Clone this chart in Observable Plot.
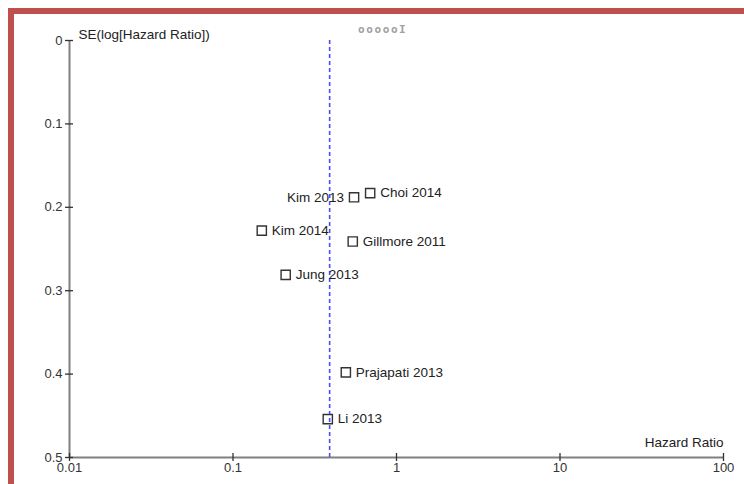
<!DOCTYPE html>
<html>
<head>
<meta charset="utf-8">
<script src="https://cdn.jsdelivr.net/npm/d3@7"></script>
<script src="https://cdn.jsdelivr.net/npm/@observablehq/plot@0.6"></script>
<style>
  html, body { margin: 0; padding: 0; background: #fff; overflow: hidden; }
  #wrap { position: relative; width: 744px; height: 484px; overflow: hidden; }
  #frame { position: absolute; left: 8px; top: 8px; width: 900px; height: 700px;
           border-top: 6px solid #c0504d; border-left: 6px solid #c0504d; box-sizing: border-box; }
  #chart { position: absolute; left: 0; top: 0; }
  #stray { position: absolute; left: 358px; top: 23px; font: bold 11px "DejaVu Sans Mono", monospace;
           color: #a0a0a0; letter-spacing: 1.6px; }
</style>
</head>
<body>
<div id="wrap">
  <div id="frame"></div>
  <div id="chart"></div>
  <div id="stray">oooooI</div>
</div>
<script>
// Study data
const studies = ["Kim 2013", "Choi 2014", "Kim 2014", "Gillmore 2011", "Jung 2013", "Prajapati 2013", "Li 2013"];
const hazardRatios = [0.55, 0.69, 0.15, 0.54, 0.21, 0.49, 0.38];
const standardErrors = [0.188, 0.183, 0.228, 0.241, 0.281, 0.398, 0.454];
const leftLabeled = ["Kim 2013"];
const pooledHR = [0.39];
const xTicks = [0.01, 0.1, 1, 10, 100];
const xTickLabels = ["0.01", "0.1", "1", "10", "100"];
const yTicks = [0, 0.1, 0.2, 0.3, 0.4, 0.5];
const yTickLabels = ["0", "0.1", "0.2", "0.3", "0.4", "0.5"];
const xDomain = [0.01, 100];
const yDomain = [0, 0.5];
const yTitle = ["SE(log[Hazard Ratio])"];
const xTitle = ["Hazard Ratio"];

const rows = studies.map((s, i) => ({study: s, hr: hazardRatios[i], se: standardErrors[i]}));
const rightRows = rows.filter(d => !leftLabeled.includes(d.study));
const leftRows = rows.filter(d => leftLabeled.includes(d.study));

const font = "'Liberation Sans', Arial, sans-serif";
const chart = Plot.plot({
  width: 744,
  height: 484,
  marginLeft: 69,
  marginRight: 21,
  marginTop: 40,
  marginBottom: 27,
  style: {fontFamily: font, fontSize: "13px", background: "transparent", overflow: "visible"},
  x: {type: "log", domain: xDomain},
  y: {domain: yDomain, reverse: true},
  marks: [
    // axis lines
    Plot.ruleX([xDomain[0]], {y1: yDomain[0], y2: yDomain[1], stroke: "#808080", strokeWidth: 2}),
    Plot.ruleY([yDomain[1]], {x1: xDomain[0], x2: xDomain[1], stroke: "#808080", strokeWidth: 2}),
    // crossing ticks
    Plot.axisY({ticks: yTicks, tickSize: 8, dx: 4, text: null, stroke: "#333", strokeWidth: 1.3, label: null}),
    Plot.axisY({ticks: yTicks, tickSize: 0, tickPadding: 7,
                tickFormat: d => yTickLabels[yTicks.indexOf(d)],
                fill: "#333", fontSize: 13, label: null}),
    Plot.axisX({ticks: xTicks, tickSize: 8, dy: -4, text: null, stroke: "#333", strokeWidth: 1.3, label: null}),
    Plot.axisX({ticks: xTicks, tickSize: 0, tickPadding: 5,
                tickFormat: d => xTickLabels[xTicks.indexOf(d)],
                fill: "#333", fontSize: 13, label: null}),
    // axis titles
    Plot.text(yTitle, {frameAnchor: "top-left", textAnchor: "start", dx: 9, dy: -11, fill: "#222", fontSize: 13.5}),
    Plot.text(xTitle, {frameAnchor: "bottom-right", textAnchor: "end", dy: -11, fill: "#222", fontSize: 13.5}),
    // pooled estimate
    Plot.ruleX(pooledHR, {y1: yDomain[0], y2: yDomain[1], stroke: "#4d4dff", strokeWidth: 1.6, strokeDasharray: "4,3"}),
    // studies
    Plot.dot(rows, {x: "hr", y: "se", symbol: "square", r: 5.2, stroke: "#333", strokeWidth: 1.4, fill: "none"}),
    Plot.text(rightRows, {x: "hr", y: "se", text: "study", textAnchor: "start", dx: 10, fill: "#222", fontSize: 13.5}),
    Plot.text(leftRows, {x: "hr", y: "se", text: "study", textAnchor: "end", dx: -10, fill: "#222", fontSize: 13.5})
  ]
});
document.getElementById("chart").appendChild(chart);
</script>
</body>
</html>
